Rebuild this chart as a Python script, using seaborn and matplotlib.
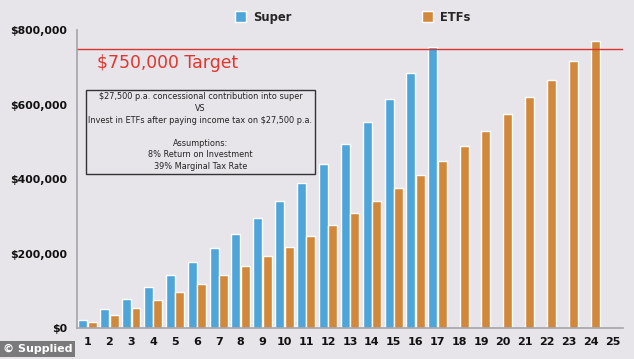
import pandas as pd
import matplotlib.pyplot as plt
import seaborn as sns
from matplotlib.ticker import FuncFormatter

years = list(range(1, 26))
super_vals = [23000, 51000, 80000, 110000, 142000, 177000, 215000, 254000, 296000,
              342000, 390000, 441000, 495000, 555000, 617000, 685000, 756000]
etf_vals = [17000, 36000, 55000, 76000, 97000, 120000, 142000, 167000, 193000, 219000,
            248000, 277000, 309000, 342000, 376000, 412000, 450000, 489000, 531000,
            575000, 621000, 668000, 719000, 772000]
target = 750000
y_ticks = [0, 200000, 400000, 600000, 800000]

rows = []
for i, v in enumerate(super_vals):
    rows.append({'Year': str(years[i]), 'Value': v, 'Fund': 'Super'})
for i, v in enumerate(etf_vals):
    rows.append({'Year': str(years[i]), 'Value': v, 'Fund': 'ETFs'})
df = pd.DataFrame(rows)

bg = '#e7e4ea'
sns.set_style("white")
plt.rcParams['font.family'] = ['DejaVu Sans']

fig = plt.figure(figsize=(6.34, 3.59), dpi=100, facecolor=bg)
ax = fig.add_axes([0.1215, 0.0855, 0.8611, 0.8298])
ax.set_facecolor(bg)

sns.barplot(data=df, x='Year', y='Value', hue='Fund', order=[str(y) for y in years],
            hue_order=['Super', 'ETFs'], palette=['#4da5da', '#d1883b'],
            width=0.86, gap=0.05, saturation=1, ax=ax)

ax.set_ylim(0, 800000)
ax.set_xlim(-0.48, 24.48)
ax.set_yticks(y_ticks)
ax.yaxis.set_major_formatter(FuncFormatter(lambda v, p: f'${v:,.0f}'))
ax.set_xlabel('')
ax.set_ylabel('')
ax.tick_params(axis='both', length=0, colors='#111111')
ax.tick_params(axis='y', pad=7, labelsize=7.8)
ax.tick_params(axis='x', pad=6, labelsize=8)
for lab in ax.get_xticklabels() + ax.get_yticklabels():
    lab.set_fontweight('bold')

for s in ['top', 'right']:
    ax.spines[s].set_visible(False)
for s in ['left', 'bottom']:
    ax.spines[s].set_color('#a6a4ab')
    ax.spines[s].set_linewidth(1.2)

ax.axhline(target, color='#d8352c', lw=1)
ax.text(0.037, 712000, '$750,000 Target', transform=ax.get_yaxis_transform(),
        color='#e0372d', fontsize=12.4, va='center', ha='left')

box_text = ('$27,500 p.a. concessional contribution into super\nVS\n'
            'Invest in ETFs after paying income tax on $27,500 p.a.\n\n'
            'Assumptions:\n8% Return on Investment\n39% Marginal Tax Rate')
ax.text(0.226, 528000, box_text, transform=ax.get_yaxis_transform(),
        ha='center', va='center', multialignment='center', fontsize=5.9,
        linespacing=1.37, color='#222222',
        bbox=dict(boxstyle='square,pad=0.35', facecolor='none', edgecolor='#333333', lw=1))

sns.move_legend(ax, 'center', bbox_to_anchor=(0.505, 1.045), ncol=2, frameon=False,
                title=None, fontsize=8.3, handlelength=1.0, handleheight=1.0,
                handletextpad=0.6, columnspacing=11.3)
for t in ax.get_legend().get_texts():
    t.set_fontweight('bold')

fig.text(0.004, 0.014, '© Supplied', color='white', fontsize=8, fontweight='bold',
         ha='left', va='bottom',
         bbox=dict(boxstyle='square,pad=0.3', facecolor='#7a7a7c', edgecolor='none'))

fig.savefig('out.png', dpi=100, facecolor=bg)
